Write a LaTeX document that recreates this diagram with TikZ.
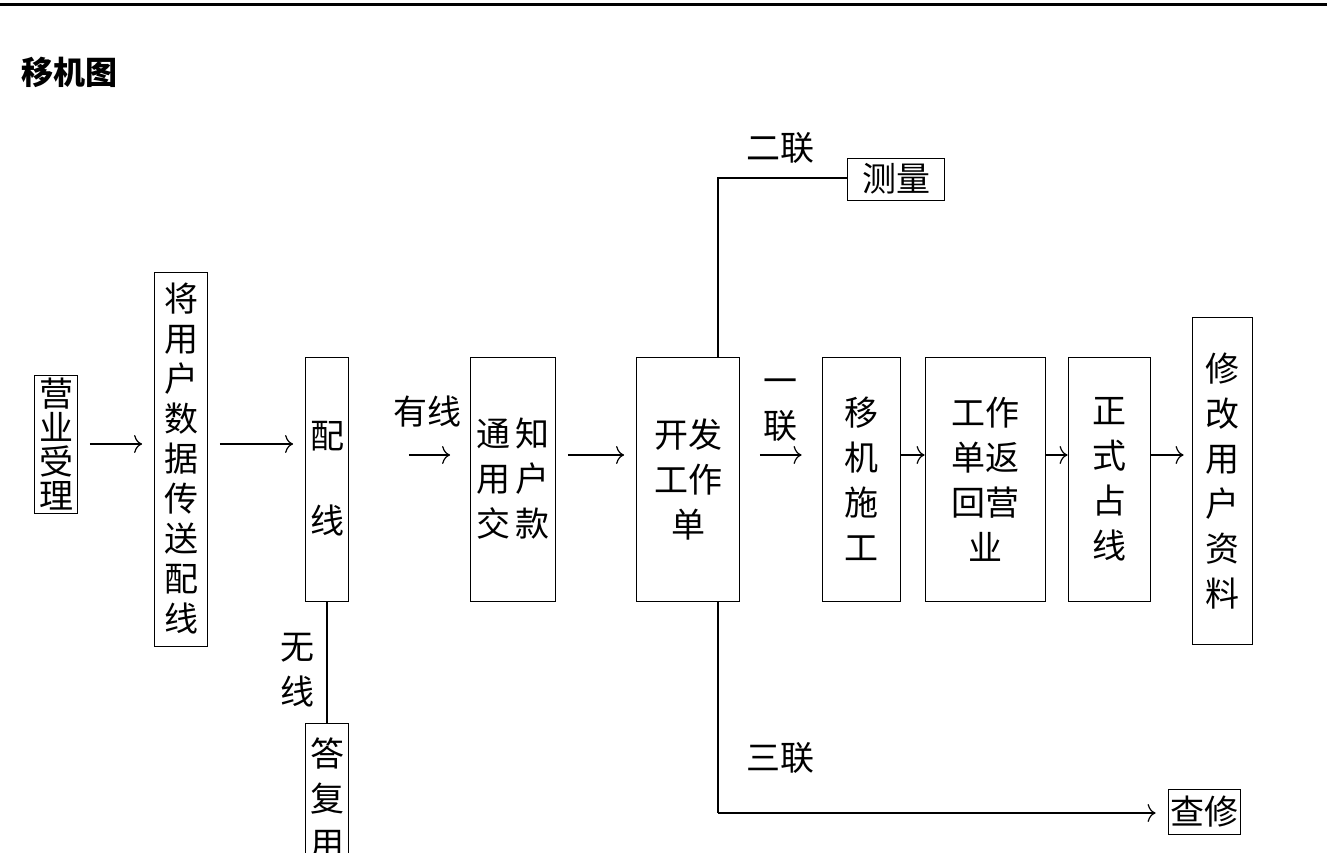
\documentclass[tikz,border=0pt]{standalone}
\usepackage{fontspec}
\setmainfont{Noto Sans CJK SC}
\usetikzlibrary{arrows.meta, positioning}
\tikzset{
  box/.style={draw, thick, inner sep=0pt, align=center, font=\fontsize{34}{45}\selectfont},
  lbl/.style={inner sep=0pt, align=center, font=\fontsize{34}{45}\selectfont},
  flow/.style={-{To[length=8pt,width=18pt]}, line width=1.2pt, shorten <=12pt, shorten >=12pt},
  tie/.style={line width=1.2pt}
}
\begin{document}
\begin{tikzpicture}[x=1pt, y=-1pt]
  \useasboundingbox (0,0) rectangle (1327,853);
  \draw[line width=3pt] (0,5) -- (1327,5);
  \node[anchor=west, font=\fontsize{32}{36}\bfseries\selectfont] (title) at (18,72) {移机图};

  \node[box, minimum width=43pt, minimum height=138pt, font=\fontsize{34}{34}\selectfont] (yy) at (56,444) {营\\业\\受\\理};
  \node[box, minimum width=53pt, minimum height=374pt, font=\fontsize{34}{40}\selectfont] (cs) at (181,459) {将\\用\\户\\数\\据\\传\\送\\配\\线};
  \node[box, minimum width=43pt, minimum height=244pt] (px) at (327,479) {配\\[40pt]线};
  \node[box, minimum width=43pt, minimum height=150pt, anchor=north] (df) at (327,723) {答\\复\\用};
  \node[box, minimum width=85pt, minimum height=244pt] (tz) at (513,479) {通\,知\\用\,户\\交\,款};
  \node[box, minimum width=103pt, minimum height=244pt] (kf) at (688,479) {开发\\工作\\单};
  \node[box, minimum width=78pt, minimum height=244pt] (yj) at (861,479) {移\\机\\施\\工};
  \node[box, minimum width=120pt, minimum height=244pt] (gz) at (985,479) {工作\\单返\\回营\\业};
  \node[box, minimum width=82pt, minimum height=244pt] (zs) at (1109,479) {正\\式\\占\\线};
  \node[box, minimum width=60pt, minimum height=327pt] (xg) at (1222,481) {修\\改\\用\\户\\资\\料};
  \node[box, minimum width=97pt, minimum height=42pt] (cl) at (896,179) {测量};
  \node[box, minimum width=72pt, minimum height=45pt] (cx) at (1204,812) {查修};

  \node[lbl] (wx) at (297,670) {无\\线};
  \node[lbl] (yx) at (427,412) {有线};
  \node[lbl] (el) at (780,148) {二联};
  \node[lbl] (yl) at (780,410) {一\\联};
  \node[lbl] (sl) at (780,758) {三联};

  \coordinate (up) at (718,178);
  \coordinate (dn) at (718,813);

  \draw[flow] (yy) -- (cs.west |- yy);
  \draw[flow] (cs.east |- yy) -- (px.west |- yy);
  \draw[flow, shorten <=60pt, shorten >=20pt] (px.east |- 0,455) -- (tz.west |- 0,455);
  \draw[flow] (tz.east |- 0,455) -- (kf.west |- 0,455);
  \draw[flow, shorten <=20pt, shorten >=20pt] (kf.east |- 0,455) -- (yj.west |- 0,455);
  \draw[flow, shorten <=0pt, shorten >=0pt] (yj.east |- 0,455) -- (gz.west |- 0,455);
  \draw[flow, shorten <=0pt, shorten >=0pt] (gz.east |- 0,455) -- (zs.west |- 0,455);
  \draw[flow, shorten <=0pt, shorten >=8pt] (zs.east |- 0,455) -- (xg.west |- 0,455);

  \draw[tie] (px) -- (df);
  \draw[tie] (kf.north -| up) -- (up) -- (cl.west |- up);
  \draw[tie] (kf.south -| dn) -- (dn);
  \draw[flow, shorten <=0pt, shorten >=12pt] (dn) -- (cx.west |- dn);
\end{tikzpicture}
\end{document}
